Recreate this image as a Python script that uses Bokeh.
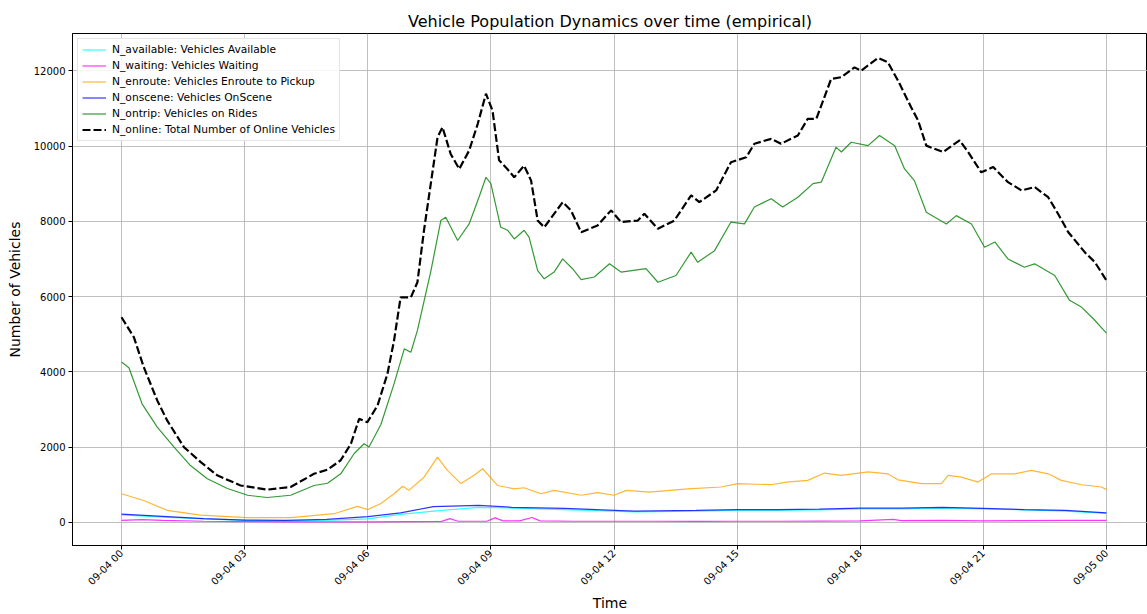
import math
import pandas as pd
from bokeh.plotting import figure
from bokeh.models import ColumnDataSource, FixedTicker, DatetimeTickFormatter, Range1d, Legend, LegendItem
from bokeh.embed import file_html
from bokeh.resources import INLINE

# ---------------- data (hours after 2024-09-04 00:00) ----------------
online_h = [0, 0.3, 0.54, 0.87, 1.11, 1.52, 1.93, 2.33, 2.9, 3.55, 4.12, 4.69, 5.02, 5.34, 5.59, 5.79, 5.99,
            6.24, 6.48, 6.64, 6.8, 7.05, 7.21, 7.37, 7.7, 7.82, 8.02, 8.23, 8.47, 8.68, 8.88, 9.04, 9.2, 9.4,
            9.57, 9.81, 9.98, 10.14, 10.3, 10.75, 10.95, 11.2, 11.6, 11.93, 12.17, 12.58, 12.74, 13.07, 13.47,
            13.88, 14.08, 14.49, 14.85, 15.22, 15.42, 15.83, 16.07, 16.48, 16.72, 16.93, 17.29, 17.54, 17.86,
            18.02, 18.43, 18.67, 18.92, 19.24, 19.41, 19.61, 20.02, 20.42, 20.63, 20.95, 21.24, 21.6, 21.93,
            22.25, 22.58, 22.82, 23.07, 23.47, 23.72, 24.0]
online_v = [5450, 4920, 4130, 3240, 2710, 2000, 1600, 1250, 980, 870, 940, 1290, 1400, 1650, 2090, 2750, 2660,
            3110, 3950, 4830, 5980, 5980, 6380, 7760, 10230, 10500, 9790, 9390, 9880, 10590, 11390, 10940, 9620, 9390,
            9170, 9480, 9080, 8020, 7840, 8510, 8290, 7710, 7890, 8290, 7980, 8020, 8200, 7800, 8020,
            8690, 8510, 8820, 9570, 9700, 10060, 10190, 10060, 10280, 10720, 10720, 11780, 11830, 12090,
            12000, 12340, 12230, 11740, 11030, 10680, 10010, 9840, 10150, 9840, 9300, 9440, 9040, 8820,
            8910, 8640, 8200, 7710, 7180, 6910, 6430]

ontrip_h = [0, 0.18, 0.5, 0.87, 1.28, 1.68, 2.09, 2.58, 3.07, 3.55, 4.12, 4.69, 5.02, 5.34, 5.67, 5.91, 6.03,
            6.32, 6.64, 6.89, 7.05, 7.21, 7.54, 7.78, 7.9, 8.19, 8.47, 8.71, 8.88, 9.0, 9.24, 9.41, 9.57, 9.81,
            9.93, 10.14, 10.3, 10.54, 10.75, 10.99, 11.2, 11.52, 11.89, 12.17, 12.78, 13.07, 13.51, 13.88, 14.04,
            14.45, 14.85, 15.18, 15.42, 15.83, 16.11, 16.48, 16.85, 17.05, 17.41, 17.54, 17.78, 18.19, 18.47,
            18.84, 19.08, 19.32, 19.61, 20.1, 20.34, 20.71, 21.03, 21.28, 21.6, 22.0, 22.25, 22.74, 23.1, 23.39,
            23.68, 24.0]
ontrip_v = [4260, 4110, 3150, 2530, 2000, 1510, 1160, 900, 720, 660, 720, 980, 1040, 1290, 1830, 2090, 2000,
            2600, 3680, 4610, 4520, 5100, 6690, 8020, 8110, 7490, 7930, 8640, 9170, 9000, 7840, 7760, 7530, 7760,
            7580, 6690, 6470, 6650, 7000, 6740, 6450, 6520, 6870, 6650, 6740, 6380, 6560, 7180, 6910,
            7220, 7980, 7930, 8380, 8600, 8380, 8640, 9000, 9040, 9970, 9840, 10100, 10010, 10280,
            10010, 9390, 9080, 8240, 7930, 8150, 7930, 7310, 7450, 7000, 6780, 6870, 6560, 5900, 5720,
            5410, 5030]

enroute_h = [0, 0.54, 1.11, 1.93, 3.07, 4.12, 5.18, 5.75, 6.0, 6.32, 6.64, 6.85, 7.0, 7.37, 7.7, 7.94, 8.27,
             8.59, 8.8, 9.16, 9.57, 9.81, 10.22, 10.54, 11.2, 11.6, 12.0, 12.3, 12.86, 13.8, 14.61, 15.02, 15.83,
             16.2, 16.72, 17.13, 17.54, 18.19, 18.67, 18.92, 19.49, 19.98, 20.14, 20.47, 20.87, 21.2, 21.76,
             22.17, 22.58, 22.9, 23.39, 23.88, 24.0]
enroute_v = [760, 580, 320, 190, 125, 125, 230, 425, 340, 500, 760, 960, 850, 1200, 1735, 1380, 1030,
             1250, 1425, 980, 890, 920, 760, 850, 720, 790, 720, 850, 805, 890, 940, 1030, 1000,
             1070, 1115, 1310, 1250, 1340, 1290, 1130, 1030, 1030, 1250, 1200, 1070, 1290, 1290,
             1380, 1290, 1115, 1000, 940, 870]

onscene_h = [0, 1, 2, 3, 4, 5, 6, 6.8, 7.6, 8.7, 9.5, 10.8, 12.5, 14, 15, 16, 17, 18, 19, 20, 21, 22, 23, 24]
onscene_v = [220, 160, 100, 60, 55, 80, 150, 250, 420, 450, 400, 370, 300, 320, 340, 340, 350, 380, 380, 400,
             370, 340, 320, 250]

available_h = [0, 1, 2, 3, 4, 5, 6, 6.8, 7.6, 8.7, 9.5, 10.8, 12.5, 14, 15, 16, 17, 18, 19, 20, 21, 22, 23, 24]
available_v = [200, 140, 90, 50, 40, 50, 90, 210, 300, 400, 380, 340, 280, 300, 320, 320, 330, 360, 360, 380,
               360, 330, 300, 240]

waiting_h = [0, 0.5, 1, 2, 3, 4, 5, 6, 7, 7.8, 8.0, 8.2, 8.9, 9.1, 9.3, 9.7, 10.0, 10.2, 11, 12, 13, 14, 15,
             16, 17, 18, 18.8, 19, 20, 21, 22, 23, 24]
waiting_v = [50, 70, 50, 30, 20, 15, 15, 15, 20, 25, 100, 30, 30, 120, 40, 40, 130, 40, 30, 30, 30, 25, 30,
             30, 35, 40, 80, 45, 50, 40, 45, 55, 50]

series_labels = ["N_available: Vehicles Available", "N_waiting: Vehicles Waiting",
                 "N_enroute: Vehicles Enroute to Pickup", "N_onscene: Vehicles OnScene",
                 "N_ontrip: Vehicles on Rides", "N_online: Total Number of Online Vehicles"]
tick_hours = [0, 3, 6, 9, 12, 15, 18, 21, 24]
y_ticks = [0, 2000, 4000, 6000, 8000, 10000, 12000]

base = pd.Timestamp("2024-09-04 00:00")


def to_dt(hours):
    return [base + pd.Timedelta(hours=h) for h in hours]


def ms(h):
    return (base + pd.Timedelta(hours=h)).value / 1e6


FONT = "DejaVu Sans"

p = figure(width=1147, height=614, x_axis_type="datetime", output_backend="svg", toolbar_location=None,
           title="Vehicle Population Dynamics over time (empirical)",
           min_border_left=72, min_border_right=0, min_border_top=33, min_border_bottom=40)

p.x_range = Range1d(ms(-1.195), ms(25.0))
p.y_range = Range1d(-615, 12990)

p.title.text_font = FONT
p.title.text_font_size = "16px"
p.title.text_font_style = "normal"
p.title.align = "center"
p.title.text_color = "#000000"
p.title.standoff = 6
p.title.offset = 4

series = [
    (available_h, available_v, "cyan", 1.2, 0.8, None),
    (waiting_h, waiting_v, "magenta", 1.2, 0.8, None),
    (enroute_h, enroute_v, "orange", 1.2, 0.8, None),
    (onscene_h, onscene_v, "blue", 1.2, 0.8, None),
    (ontrip_h, ontrip_v, "green", 1.2, 0.8, None),
    (online_h, online_v, "black", 2.2, 1.0, "8 3"),
]

items = []
for (hh, vv, col, lw, alpha, dash), lab in zip(series, series_labels):
    src = ColumnDataSource(dict(t=to_dt(hh), v=vv))
    kw = dict(line_color=col, line_width=lw, line_alpha=alpha)
    if dash:
        kw["line_dash"] = dash
    r = p.line("t", "v", source=src, **kw)
    items.append(LegendItem(label=lab, renderers=[r]))

legend = Legend(items=items, location="top_left")
legend.label_text_font = FONT
legend.label_text_font_size = "10.7px"
legend.label_text_color = "#000000"
legend.glyph_width = 24
legend.glyph_height = 13
legend.label_height = 13
legend.spacing = 3
legend.padding = 4
legend.margin = 5
legend.label_standoff = 6
legend.border_line_color = "#cccccc"
legend.border_line_width = 1
legend.background_fill_alpha = 0.85
p.add_layout(legend)

# axes
p.xaxis.ticker = FixedTicker(ticks=[ms(h) for h in tick_hours])
p.xaxis.formatter = DatetimeTickFormatter(hours="%m-%d %H", days="%m-%d %H", months="%m-%d %H",
                                          hourmin="%m-%d %H", minutes="%m-%d %H")
p.xaxis.major_label_orientation = math.pi / 4
p.yaxis.ticker = FixedTicker(ticks=y_ticks)

for ax in (p.xaxis, p.yaxis):
    ax.major_label_text_font = FONT
    ax.major_label_text_font_size = "10px"
    ax.major_label_text_color = "#000000"
    ax.axis_label_text_font = FONT
    ax.axis_label_text_font_size = "14px"
    ax.axis_label_text_font_style = "normal"
    ax.axis_label_text_color = "#000000"
    ax.major_tick_in = 0
    ax.major_tick_out = 4
    ax.minor_tick_line_color = None
    ax.axis_line_color = "#000000"
    ax.major_tick_line_color = "#000000"

p.xaxis.major_label_standoff = 2
p.yaxis.major_label_standoff = 3
p.xaxis.axis_label = "Time"
p.yaxis.axis_label = "Number of Vehicles"
p.xaxis.axis_label_standoff = 1
p.yaxis.axis_label_standoff = 8

p.grid.grid_line_color = "#b0b0b0"
p.grid.grid_line_alpha = 0.8
p.grid.grid_line_width = 1
p.outline_line_color = "#000000"
p.outline_line_width = 1
p.background_fill_color = "white"

open("out.html", "w").write(file_html(p, INLINE))
